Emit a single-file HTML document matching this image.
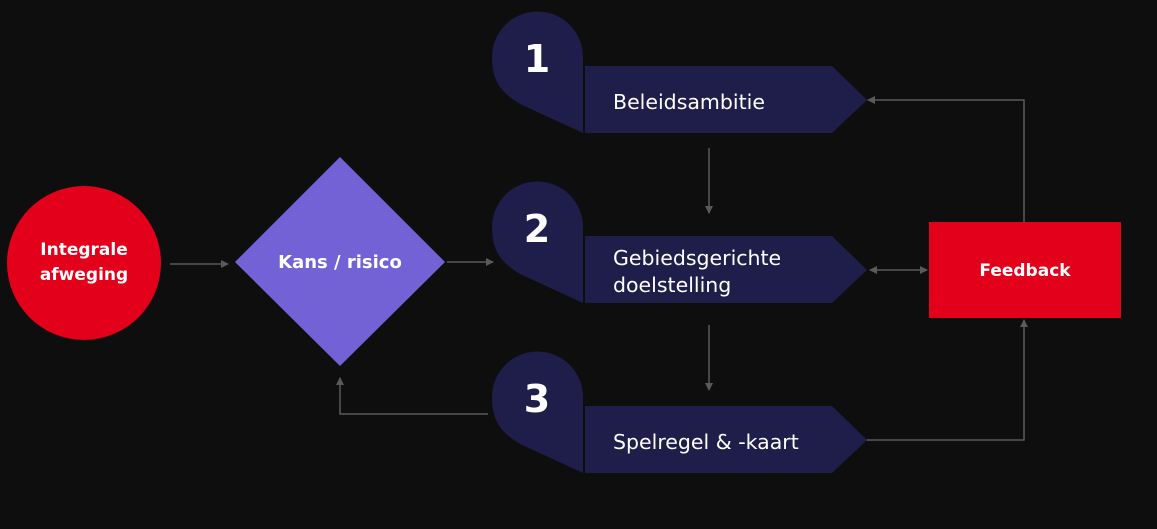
<!DOCTYPE html>
<html><head><meta charset="utf-8"><style>
body{margin:0;background:#0e0e0f;}
svg{display:block}
text{font-family:"DejaVu Sans","Liberation Sans",sans-serif;}
</style></head><body>
<svg width="1157" height="529" viewBox="0 0 1157 529">
<defs>
<marker id="a" markerWidth="8" markerHeight="8" refX="7" refY="4" orient="auto" markerUnits="userSpaceOnUse"><path d="M0,0 L8,4 L0,8 Z" fill="#5a5a5a"/></marker>
<marker id="s" markerWidth="8" markerHeight="8" refX="1" refY="4" orient="auto" markerUnits="userSpaceOnUse"><path d="M8,0 L0,4 L8,8 Z" fill="#5a5a5a"/></marker>
<g id="tag">
<path d="M583,133 V57 A45.5,45.5 0 0 0 492,57 C492,80 500,92 520,104 Z" fill="#1f1d4a"/>
<path d="M585,66 H832 L867,100 L832,133 H585 Z" fill="#1f1d4a"/>
</g>
</defs>
<rect width="1157" height="529" fill="#0e0e0f"/>
<g stroke="#5a5a5a" stroke-width="1.5" fill="none">
<path d="M170,264 H228" marker-end="url(#a)"/>
<path d="M447,262 H493" marker-end="url(#a)"/>
<path d="M709,148 V213" marker-end="url(#a)"/>
<path d="M709,325 V390" marker-end="url(#a)"/>
<path d="M488,414 H340 V378" marker-end="url(#a)"/>
<path d="M1024,222 V100 H868" marker-end="url(#a)"/>
<path d="M870,270 H927" marker-start="url(#s)" marker-end="url(#a)"/>
<path d="M866,440 H1024 V320" marker-end="url(#a)"/>
</g>
<circle cx="84" cy="263" r="77" fill="#e2001a"/>
<text x="84" y="255" fill="#fff" font-size="17" font-weight="bold" text-anchor="middle">Integrale</text>
<text x="84" y="280" fill="#fff" font-size="17" font-weight="bold" text-anchor="middle">afweging</text>
<path d="M340,157 L445,262 L340,366 L235,262 Z" fill="#7262d6"/>
<text x="340" y="268" fill="#fff" font-size="18" font-weight="bold" text-anchor="middle">Kans / risico</text>
<use href="#tag"/>
<use href="#tag" y="170"/>
<use href="#tag" y="340"/>
<g fill="#fff" font-size="38" font-weight="bold" text-anchor="middle">
<text x="537" y="72">1</text>
<text x="537" y="242">2</text>
<text x="537" y="412">3</text>
</g>
<g fill="#fff" font-size="20.5">
<text x="613" y="109">Beleidsambitie</text>
<text x="613" y="265">Gebiedsgerichte</text>
<text x="613" y="292">doelstelling</text>
<text x="613" y="449">Spelregel &amp; -kaart</text>
</g>
<rect x="929" y="222" width="192" height="96" fill="#e2001a"/>
<text x="1025" y="276" fill="#fff" font-size="17" font-weight="bold" text-anchor="middle">Feedback</text>
</svg>
</body></html>
